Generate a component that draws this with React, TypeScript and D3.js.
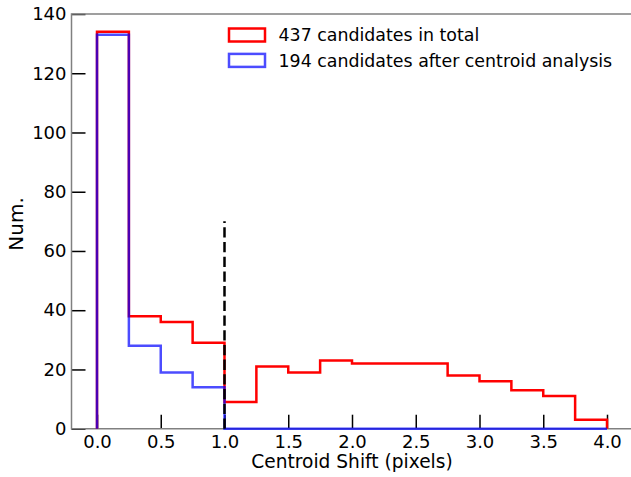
import React, { useEffect, useRef } from 'react';
import * as d3 from 'd3';

// bin edges (pixels) and counts per bin
const binEdges = [0, 0.25, 0.5, 0.75, 1.0, 1.25, 1.5, 1.75, 2.0, 2.25, 2.5, 2.75, 3.0, 3.25, 3.5, 3.75, 4.0];
const totalCounts = [134, 38, 36, 29, 9, 21, 19, 23, 22, 22, 22, 18, 16, 13, 11, 3];
const centroidCounts = [133, 28, 19, 14, 0, 0, 0, 0, 0, 0, 0, 0, 0, 0, 0, 0];
const xTicks = [0, 0.5, 1.0, 1.5, 2.0, 2.5, 3.0, 3.5, 4.0];
const yTicks = [0, 20, 40, 60, 80, 100, 120, 140];
const legendLabels = ['437 candidates in total', '194 candidates after centroid analysis'];
const cutShift = 1.0;
const cutHeight = 70;

const App = () => {
  const chartRef = useRef(null);

  useEffect(() => {
    const W = 631, H = 477;
    const margin = { top: 14, right: -1.5, bottom: 48, left: 71.5 };
    const font = 'DejaVu Sans, sans-serif';
    const tickFs = 18;
    const labelFs = 18.6;
    const legendFs = 17.4;
    const lw = 2.5;

    const svg = d3.select(chartRef.current)
      .attr('width', W)
      .attr('height', H)
      .style('background-color', '#ffffff');

    svg.selectAll('*').remove();

    const x = d3.scaleLinear()
      .domain([-0.2, 4.2])
      .range([margin.left, W - margin.right]);

    const y = d3.scaleLinear()
      .domain([0, 140])
      .range([H - margin.bottom - 0.3, margin.top]);

    const stepPoints = (counts) => {
      const pts = [[x(binEdges[0]), y(0)]];
      counts.forEach((c, i) => {
        pts.push([x(binEdges[i]), y(c)]);
        pts.push([x(binEdges[i + 1]), y(c)]);
      });
      pts.push([x(binEdges[binEdges.length - 1]), y(0)]);
      return pts;
    };
    const line = d3.line();

    // x axis (inward ticks)
    const xAxis = svg.append('g')
      .attr('transform', `translate(0,${y(0)})`)
      .call(d3.axisBottom(x).tickValues(xTicks).tickFormat(d3.format('.1f')).tickSize(-14).tickPadding(7));
    xAxis.select('.domain').remove();
    xAxis.selectAll('line').attr('stroke', '#000').attr('stroke-width', 1.5);
    xAxis.selectAll('text').style('font-family', font).style('font-size', `${tickFs}px`).attr('fill', '#000');

    const yAxis = svg.append('g')
      .attr('transform', `translate(${margin.left},0)`)
      .call(d3.axisLeft(y).tickValues(yTicks).tickSize(-14).tickPadding(5));
    yAxis.select('.domain').remove();
    yAxis.selectAll('line').attr('stroke', '#000').attr('stroke-width', 1.5);
    yAxis.selectAll('text').style('font-family', font).style('font-size', `${tickFs}px`).attr('fill', '#000');

    // spines
    svg.append('path')
      .attr('d', `M${x(4.2)},${y(140)}H${x(-0.2)}V${y(0)}H${x(4.2)}`)
      .attr('fill', 'none')
      .attr('stroke', '#808080')
      .attr('stroke-width', 1.5);

    // histograms
    svg.append('path')
      .attr('d', line(stepPoints(totalCounts)))
      .attr('fill', 'none')
      .attr('stroke', '#ff0000')
      .attr('stroke-width', lw);

    svg.append('path')
      .attr('d', line(stepPoints(centroidCounts)))
      .attr('fill', 'none')
      .attr('stroke', '#0000ff')
      .attr('stroke-opacity', 0.7)
      .attr('stroke-width', lw);

    // cut line
    svg.append('line')
      .attr('x1', x(cutShift)).attr('x2', x(cutShift))
      .attr('y1', y(0)).attr('y2', y(cutHeight))
      .attr('stroke', '#000')
      .attr('stroke-width', lw)
      .attr('stroke-dasharray', '10.3,4.4');

    // legend
    const colors = ['#ff0000', '#0000ff'];
    const legend = svg.append('g');
    legendLabels.forEach((lab, i) => {
      const cy = 35 + i * 25.4;
      legend.append('rect')
        .attr('x', 229).attr('y', cy - 6.5)
        .attr('width', 36).attr('height', 13)
        .attr('fill', 'none')
        .attr('stroke', colors[i])
        .attr('stroke-opacity', i === 1 ? 0.7 : 1)
        .attr('stroke-width', lw);
      legend.append('text')
        .attr('x', 278.5).attr('y', cy)
        .attr('dy', '0.36em')
        .style('font-family', font).style('font-size', `${legendFs}px`)
        .text(lab);
    });

    // axis labels
    svg.append('text')
      .attr('text-anchor', 'middle')
      .attr('x', (x(-0.2) + x(4.2)) / 2)
      .attr('y', 468)
      .style('font-family', font).style('font-size', `${labelFs}px`)
      .text('Centroid Shift (pixels)');

    svg.append('text')
      .attr('text-anchor', 'middle')
      .attr('transform', `translate(23,224) rotate(-90)`)
      .style('font-family', font).style('font-size', '20px')
      .text('Num.');
  }, []);

  return (
    <svg ref={chartRef} style={{ position: 'absolute', left: 0, top: 0 }}></svg>
  );
};

export default App;
